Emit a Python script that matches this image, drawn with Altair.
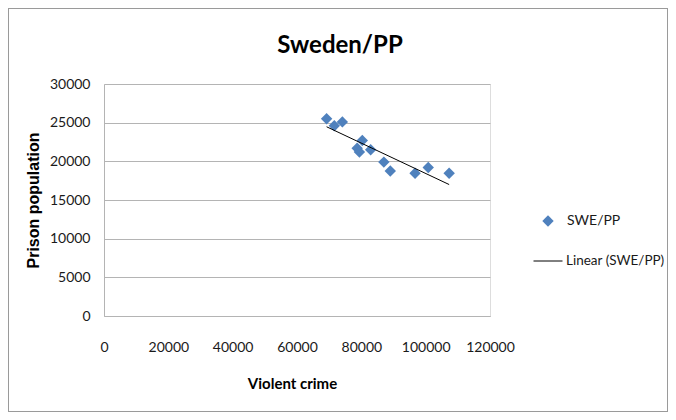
import altair as alt
import pandas as pd

violent_crime = [69200, 71600, 74100, 80300, 78700, 79400, 82900, 87000, 89000, 96700, 100800, 107300]
prison_population = [25500, 24600, 25100, 22700, 21700, 21200, 21500, 19900, 18750, 18450, 19200, 18450]
series_name = "SWE/PP"
trend_name = "Linear (SWE/PP)"
x_ticks = [0, 20000, 40000, 60000, 80000, 100000, 120000]
y_ticks = [0, 5000, 10000, 15000, 20000, 25000, 30000]

df = pd.DataFrame({"vc": violent_crime, "pp": prison_population, "series": [series_name] * len(violent_crime)})

FONT = "Lato"
GRID = "#b4b4b4"

x_enc = alt.X("vc:Q", scale=alt.Scale(domain=[0, 120000], nice=False, zero=True),
              axis=alt.Axis(values=x_ticks, format="d", grid=False, ticks=False, labelOverlap=False,
                            labelFlush=False, domainColor=GRID, labelFont=FONT, labelFontSize=14,
                            labelColor="#1a1a1a", labelPadding=24, title="Violent crime",
                            titleFont=FONT, titleFontSize=15, titleFontWeight="bold",
                            titleColor="#000000", titleX=188, titleY=67,
                            titleBaseline="middle", titleAlign="center"))
y_enc = alt.Y("pp:Q", scale=alt.Scale(domain=[0, 30000], nice=False),
              axis=alt.Axis(values=y_ticks, tickCount=7, format="d", grid=True, gridColor=GRID,
                            ticks=False, labelOverlap=False, labelFlush=False, domainColor=GRID,
                            labelFont=FONT, labelFontSize=14, labelColor="#1a1a1a", labelPadding=14,
                            title="Prison population", titleFont="Liberation Sans",
                            titleFontSize=16, titleFontWeight="bold", titleColor="#000000",
                            titleX=-71, titleY=116, titleBaseline="middle", titleAlign="center"))

base = alt.Chart(df)

frame = base.mark_rect(fill="transparent", stroke="#9a9a9a", strokeWidth=1).encode(
    x=alt.value(-95.5), x2=alt.value(563.5), y=alt.value(-75.5), y2=alt.value(327.5)
)

points = base.mark_point(filled=True, size=130, color="#4F81BD", opacity=1).encode(
    x=x_enc, y=y_enc,
    shape=alt.Shape("series:N", scale=alt.Scale(range=["diamond"]),
                    legend=alt.Legend(title=None, orient="none", legendX=437, legendY=130,
                                      padding=0, symbolSize=130, labelOffset=12,
                                      labelFont=FONT, labelFontSize=14, labelColor="#1a1a1a",
                                      symbolOpacity=1))
)

line = base.transform_regression("vc", "pp").transform_calculate(
    trend=f"'{trend_name}'"
).mark_line(color="#000000", strokeWidth=1).encode(
    x=x_enc, y=y_enc,
    stroke=alt.Stroke("trend:N", scale=alt.Scale(range=["#000000"]),
                      legend=alt.Legend(title=None, orient="none", legendX=429, legendY=162,
                                        padding=0, symbolType="stroke", symbolSize=841,
                                        symbolStrokeWidth=1, labelOffset=3,
                                        labelFont=FONT, labelFontSize=13.5, labelColor="#1a1a1a"))
)

chart = alt.layer(frame, points, line).properties(
    width=386, height=232,
    padding={"left": 96, "top": 76, "right": 178, "bottom": 96},
    autosize=alt.AutoSizeParams(type="none"),
    title=alt.TitleParams("Sweden/PP", font=FONT, fontSize=24, fontWeight="bold",
                          color="#000000", anchor="middle", baseline="alphabetic",
                          dx=43, dy=69, offset=0),
).configure_view(strokeWidth=0).configure(background="white")

chart.save("out.html", embed_options={"renderer": "svg", "actions": False})
